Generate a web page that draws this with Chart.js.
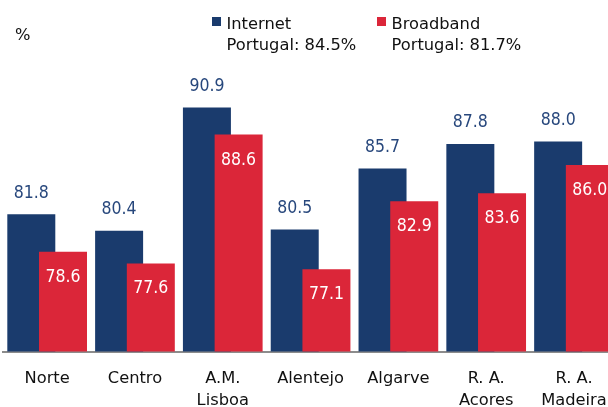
<!DOCTYPE html>
<html>
<head>
<meta charset="utf-8">
<script src="https://cdn.jsdelivr.net/npm/chart.js@4"></script>
<style>
  html, body { margin: 0; padding: 0; background: #fff; overflow: hidden; }
  #wrap { width: 620px; height: 407px; }
</style>
</head>
<body>
<div id="wrap"><canvas id="regionChart" width="620" height="407"></canvas></div>
<script>
const regions = ["Norte", "Centro", ["A.M.", "Lisboa"], "Alentejo", "Algarve", ["R. A.", "Acores"], ["R. A.", "Madeira"]];
const internetValues = [81.8, 80.4, 90.9, 80.5, 85.7, 87.8, 88.0];
const broadbandValues = [78.6, 77.6, 88.6, 77.1, 82.9, 83.6, 86.0];
const seriesNames = ["Internet", "Broadband"];
const portugalValues = [84.5, 81.7];

const FONT = "'DejaVu Sans', sans-serif";
const NUM_FONT = "'DejaVu Sans Condensed', 'DejaVu Sans', sans-serif";
const BLUE = "#1a3b6d";
const RED = "#db2639";

// draw bars left-to-right so broadband overlaps internet, then the value labels
const barsAndLabels = {
  id: "barsAndLabels",
  beforeDatasetsDraw(chart) {
    const ctx = chart.ctx;
    const area = chart.chartArea;
    ctx.save();
    ctx.beginPath();
    ctx.rect(area.left, area.top, area.right - area.left, area.bottom - area.top - 1);
    ctx.clip();
    chart.data.datasets.forEach((ds, i) => chart.getDatasetMeta(i).controller.draw());
    ctx.restore();

    ctx.save();
    ctx.font = "17.5px " + NUM_FONT;
    ctx.textAlign = "center";
    ctx.textBaseline = "alphabetic";
    chart.getDatasetMeta(0).data.forEach((bar, i) => {
      ctx.fillStyle = "#27477c";
      ctx.fillText(internetValues[i].toFixed(1), bar.x, bar.y - 16.5);
    });
    chart.getDatasetMeta(1).data.forEach((bar, i) => {
      ctx.fillStyle = "#ffffff";
      ctx.fillText(broadbandValues[i].toFixed(1), bar.x, bar.y + 30);
    });
    ctx.restore();
    return false;
  }
};

// legend with national totals, plus the unit mark
const legendBox = {
  id: "legendBox",
  afterDraw(chart) {
    const ctx = chart.ctx;
    const colors = [BLUE, RED];
    const xs = [212, 377];
    ctx.save();
    ctx.font = "16.3px " + FONT;
    ctx.textAlign = "left";
    ctx.textBaseline = "alphabetic";
    ctx.fillStyle = "#111";
    ctx.fillText("%", 15, 40);
    seriesNames.forEach((name, i) => {
      ctx.fillStyle = colors[i];
      ctx.fillRect(xs[i], 17, 9, 9);
      ctx.fillStyle = "#111";
      ctx.fillText(name, xs[i] + 14.5, 28.5);
      ctx.fillText("Portugal: " + portugalValues[i].toFixed(1) + "%", xs[i] + 14.5, 50);
    });
    ctx.restore();
  }
};

new Chart(document.getElementById("regionChart"), {
  type: "bar",
  data: {
    labels: regions,
    datasets: [
      { label: seriesNames[0], data: internetValues, backgroundColor: BLUE,
        categoryPercentage: 0.722, barPercentage: 1.514 },
      { label: seriesNames[1], data: broadbandValues, backgroundColor: RED,
        categoryPercentage: 0.722, barPercentage: 1.514 }
    ]
  },
  options: {
    responsive: false,
    animation: false,
    layout: { padding: { top: 1, left: 3.25, right: 2.1, bottom: -12.5 } },
    plugins: { legend: { display: false }, tooltip: { enabled: false } },
    scales: {
      x: {
        grid: { display: false },
        border: { display: true, color: "#8c8c8c", width: 2 },
        ticks: {
          color: "#111",
          font: { family: FONT, size: 16.3, lineHeight: 1.32 },
          padding: 8,
          maxRotation: 0,
          autoSkip: false
        }
      },
      y: {
        display: false,
        min: 70,
        max: 100
      }
    }
  },
  plugins: [barsAndLabels, legendBox]
});
</script>
</body>
</html>
